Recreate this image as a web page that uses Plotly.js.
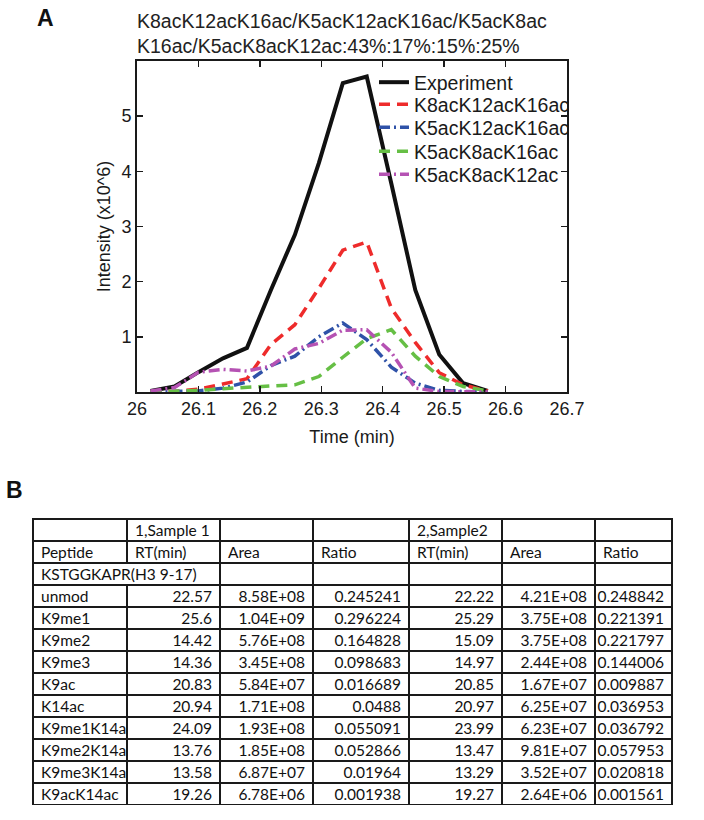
<!DOCTYPE html>
<html>
<head>
<meta charset="utf-8">
<script src="https://cdn.plot.ly/plotly-3.0.1.min.js"></script>
<style>
  html, body { margin: 0; padding: 0; background: #fff; }
  #chart { width: 704px; height: 820px; }
  #chart .cell-text { transform: translateY(-3px); }
</style>
</head>
<body>
<div id="chart"></div>
<script>
// ---- Panel A data (retention time in min, intensity in x10^6) ----
const time = [26.022, 26.061, 26.100, 26.140, 26.179, 26.218, 26.257, 26.296, 26.335, 26.374, 26.414, 26.453, 26.492, 26.531, 26.571];
const experiment = [0.02, 0.10, 0.36, 0.61, 0.80, 1.85, 2.85, 4.15, 5.60, 5.72, 3.78, 1.85, 0.68, 0.16, 0.02];
const k8k12k16 = [0.00, 0.01, 0.05, 0.15, 0.24, 0.86, 1.22, 1.88, 2.57, 2.72, 1.52, 0.90, 0.35, 0.13, 0.02];
const k5k12k16 = [0.00, 0.01, 0.02, 0.07, 0.18, 0.48, 0.65, 1.00, 1.25, 0.95, 0.45, 0.16, 0.03, 0.01, 0.00];
const k5k8k16  = [0.00, 0.01, 0.03, 0.06, 0.09, 0.11, 0.13, 0.28, 0.63, 0.97, 1.13, 0.65, 0.28, 0.10, 0.02];
const k5k8k12  = [0.02, 0.08, 0.36, 0.41, 0.38, 0.47, 0.78, 0.88, 1.12, 1.13, 0.72, 0.07, 0.01, 0.01, 0.00];
const seriesNames = ["Experiment", "K8acK12acK16ac", "K5acK12acK16ac", "K5acK8acK16ac", "K5acK8acK12ac"];
const xTicks = [26, 26.1, 26.2, 26.3, 26.4, 26.5, 26.6, 26.7];
const yTicks = [1, 2, 3, 4, 5];
const titleLines = ["K8acK12acK16ac/K5acK12acK16ac/K5acK8ac", "K16ac/K5acK8acK12ac:43%:17%:15%:25%"];

// ---- Panel B data (table) ----
const headerRow1 = ["", "1,Sample\u00a01", "", "", "2,Sample2", "", ""];
const headerRow2 = ["Peptide", "RT(min)", "Area", "Ratio", "RT(min)", "Area", "Ratio"];
const groupLabel = "KSTGGKAPR(H3\u00a09-17)";
const peptides = ["", "unmod", "K9me1", "K9me2", "K9me3", "K9ac", "K14ac", "K9me1K14ac", "K9me2K14ac", "K9me3K14ac", "K9acK14ac"];
const rt1    = ["", "22.57", "25.6", "14.42", "14.36", "20.83", "20.94", "24.09", "13.76", "13.58", "19.26"];
const area1  = ["", "8.58E+08", "1.04E+09", "5.76E+08", "3.45E+08", "5.84E+07", "1.71E+08", "1.93E+08", "1.85E+08", "6.87E+07", "6.78E+06"];
const ratio1 = ["", "0.245241", "0.296224", "0.164828", "0.098683", "0.016689", "0.0488", "0.055091", "0.052866", "0.01964", "0.001938"];
const rt2    = ["", "22.22", "25.29", "15.09", "14.97", "20.85", "20.97", "23.99", "13.47", "13.29", "19.27"];
const area2  = ["", "4.21E+08", "3.75E+08", "3.75E+08", "2.44E+08", "1.67E+07", "6.25E+07", "6.23E+07", "9.81E+07", "3.52E+07", "2.64E+06"];
const ratio2 = ["", "0.248842", "0.221391", "0.221797", "0.144006", "0.009887", "0.036953", "0.036792", "0.057953", "0.020818", "0.001561"];

const W = 704, H = 820;
const px = v => v / W;
const py = v => 1 - v / H;

const colors = ["#111111", "#ee2b2b", "#2f52a8", "#66bf45", "#b552b3"];
const dashes = ["solid", "11px,7px", "11px,4px,2px,4px", "11px,7px", "11px,4px,2px,4px"];
const widths = [4, 3.5, 3.5, 3.5, 3.5];
const ys = [experiment, k8k12k16, k5k12k16, k5k8k16, k5k8k12];
const legendIds = ["legend", "legend2", "legend3", "legend4", "legend5"];
const legendTops = [63, 85, 108, 132, 155];

const traces = ys.map((y, i) => ({
  type: "scatter", mode: "lines", x: time, y: y, name: seriesNames[i],
  line: { color: colors[i], width: widths[i], dash: dashes[i] },
  xaxis: "x", yaxis: "y", legend: legendIds[i]
}));

const tFont = { family: "Lato, 'Liberation Sans', sans-serif", size: 15.5, color: "#111" };
const tLine = { color: "#1a1a1a", width: 1.5 };
const colW = [94, 93, 93, 96, 93, 93, 77];
const tableLeft = 33;
const tableRight = tableLeft + colW.reduce((a, b) => a + b, 0);

traces.push({
  type: "table",
  domain: { x: [px(tableLeft), px(tableRight)], y: [py(805), py(519)] },
  columnwidth: colW,
  header: {
    values: headerRow1.map((h, i) => [h, headerRow2[i]]),
    align: "left", height: 22,
    fill: { color: "#ffffff" }, line: tLine, font: tFont
  },
  cells: {
    values: [peptides, rt1, area1, ratio1, rt2, area2, ratio2],
    align: ["left", "right", "right", "right", "right", "right", "right"],
    height: 22,
    fill: { color: "#ffffff" }, line: tLine, font: tFont
  }
});
// merged cell spanning the first two columns for the peptide group label
traces.push({
  type: "table",
  domain: { x: [px(tableLeft), px(tableLeft + colW[0] + colW[1])], y: [py(585), py(563)] },
  columnwidth: [colW[0] + colW[1]],
  header: {
    values: [[groupLabel]],
    align: "left", height: 22,
    fill: { color: "#ffffff" }, line: tLine, font: tFont
  },
  cells: { values: [] }
});

const font = "Arial, 'Liberation Sans', Helvetica, sans-serif";
const legendBase = (top) => ({
  x: px(374), y: py(top), xanchor: "left", yanchor: "top",
  bgcolor: "rgba(0,0,0,0)", borderwidth: 0,
  font: { family: font, size: 19.5, color: "#1a1a1a" },
  itemwidth: 30
});

const layout = {
  width: W, height: H,
  margin: { l: 0, r: 0, t: 0, b: 0 },
  paper_bgcolor: "#ffffff", plot_bgcolor: "#ffffff",
  font: { family: font, color: "#1a1a1a", size: 18 },
  showlegend: true,
  title: {
    text: titleLines.join("<br>"),
    font: { family: font, size: 19.5, color: "#222" },
    x: px(137), xanchor: "left", xref: "container",
    y: 1 - 28 / H, yanchor: "top", yref: "container"
  },
  xaxis: {
    domain: [px(137), px(567)], range: [26, 26.7],
    tickvals: xTicks, ticks: "inside", ticklen: 6, tickwidth: 1.5, tickcolor: "#1a1a1a",
    showline: true, linecolor: "#1a1a1a", linewidth: 1.8, mirror: "ticks",
    showgrid: false, zeroline: false,
    tickfont: { size: 18 },
    title: { text: "Time (min)", font: { size: 18 }, standoff: 12 }
  },
  yaxis: {
    domain: [py(392), py(61)], range: [0, 6],
    tickvals: yTicks, ticks: "inside", ticklen: 6, tickwidth: 1.5, tickcolor: "#1a1a1a",
    showline: true, linecolor: "#1a1a1a", linewidth: 1.8, mirror: "ticks",
    showgrid: false, zeroline: false,
    tickfont: { size: 18 },
    title: { text: "Intensity (x10^6)", font: { size: 18 }, standoff: 6 }
  },
  annotations: [
    { text: "<b>A</b>", x: px(45), y: py(18), xref: "paper", yref: "paper", showarrow: false,
      font: { family: font, size: 23, color: "#111" }, xanchor: "center", yanchor: "middle" },
    { text: "<b>B</b>", x: px(15), y: py(490), xref: "paper", yref: "paper", showarrow: false,
      font: { family: font, size: 23, color: "#111" }, xanchor: "center", yanchor: "middle" }
  ]
};
legendIds.forEach((id, i) => { layout[id] = legendBase(legendTops[i]); });

Plotly.newPlot("chart", traces, layout, { displayModeBar: false, staticPlot: true });
</script>
</body>
</html>
